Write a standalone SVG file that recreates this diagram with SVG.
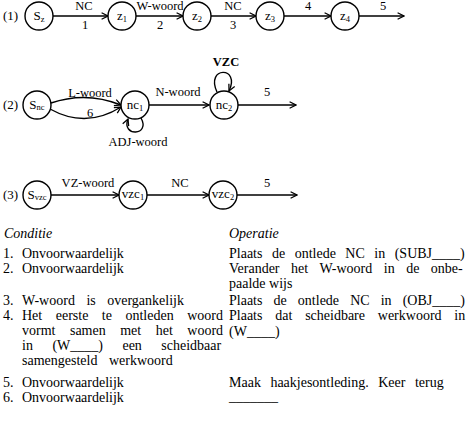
<svg xmlns="http://www.w3.org/2000/svg" width="470" height="430" viewBox="0 0 470 430">
<style>
  .n circle { fill: #fff; stroke: #000; stroke-width: 1.4; }
  .lbl { font-family: "Liberation Serif", "Times New Roman", serif; font-size: 13px; fill: #000; }
  .nl { font-family: "Liberation Serif", "Times New Roman", serif; font-size: 13px; fill: #000; text-anchor: middle; }
  .sub { font-size: 8.5px; }
  .e { fill: none; stroke: #000; stroke-width: 1.4; marker-end: url(#ah); }
  .el { font-family: "Liberation Serif", "Times New Roman", serif; font-size: 12.5px; fill: #000; text-anchor: middle; }
  .t { font-family: "Liberation Serif", "Times New Roman", serif; font-size: 14px; fill: #000; }
  .it { font-style: italic; }
</style>
<defs>
  <marker id="ah" viewBox="0 0 10 10" refX="9" refY="5" markerWidth="8" markerHeight="8" markerUnits="userSpaceOnUse" orient="auto">
    <path d="M1,1 L9,5 L1,9" fill="none" stroke="#000" stroke-width="1.6"/>
  </marker>
</defs>

<g id="row-labels">
  <text class="lbl" x="3" y="20">(1)</text>
  <text class="lbl" x="3" y="109">(2)</text>
  <text class="lbl" x="3" y="199">(3)</text>
</g>

<g id="connectors">
  <!-- row 1 -->
  <line class="e" x1="53" y1="16" x2="108" y2="16"/>
  <line class="e" x1="136" y1="16" x2="183" y2="16"/>
  <line class="e" x1="211" y1="16" x2="256" y2="16"/>
  <line class="e" x1="284" y1="16" x2="331" y2="16"/>
  <line class="e" x1="359" y1="16" x2="404" y2="16"/>
  <text class="el" x="84" y="10">NC</text>
  <text class="el" x="85" y="29">1</text>
  <text class="el" x="160" y="10">W-woord</text>
  <text class="el" x="160" y="29">2</text>
  <text class="el" x="233" y="10">NC</text>
  <text class="el" x="233" y="29">3</text>
  <text class="el" x="308" y="10">4</text>
  <text class="el" x="383" y="10">5</text>
  <!-- row 2 -->
  <path class="e" d="M51,103 Q86,91 121,105"/>
  <path class="e" d="M50,109 Q86,129 121,107"/>
  <line class="e" x1="149" y1="105" x2="209" y2="105"/>
  <line class="e" x1="238" y1="105" x2="296" y2="105"/>
  <path class="e" d="M141,118 C151,136 121,137 128,119"/>
  <path class="e" d="M217,92 C205,66 241,66 229,91"/>
  <text class="el" x="90" y="97">L-woord</text>
  <text class="el" x="90" y="117">6</text>
  <text class="el" x="178" y="96">N-woord</text>
  <text class="el" x="267" y="96">5</text>
  <text class="el" x="226" y="66" font-weight="bold">VZC</text>
  <text class="el" x="138" y="146">ADJ-woord</text>
  <!-- row 3 -->
  <line class="e" x1="51" y1="195" x2="119" y2="195"/>
  <line class="e" x1="147" y1="195" x2="209" y2="195"/>
  <line class="e" x1="237" y1="195" x2="297" y2="195"/>
  <text class="el" x="88" y="187">VZ-woord</text>
  <text class="el" x="180" y="187">NC</text>
  <text class="el" x="267" y="187">5</text>
</g>

<g id="Sz" class="n"><circle cx="39" cy="16" r="14"/><text class="nl" x="39" y="20">S<tspan class="sub" dy="2">z</tspan></text></g>
<g id="z1" class="n"><circle cx="122" cy="16" r="14"/><text class="nl" x="122" y="20">z<tspan class="sub" dy="2">1</tspan></text></g>
<g id="z2" class="n"><circle cx="197" cy="16" r="14"/><text class="nl" x="197" y="20">z<tspan class="sub" dy="2">2</tspan></text></g>
<g id="z3" class="n"><circle cx="270" cy="16" r="14"/><text class="nl" x="270" y="20">z<tspan class="sub" dy="2">3</tspan></text></g>
<g id="z4" class="n"><circle cx="345" cy="16" r="14"/><text class="nl" x="345" y="20">z<tspan class="sub" dy="2">4</tspan></text></g>

<g id="Snc" class="n"><circle cx="37" cy="105" r="14"/><text class="nl" x="37" y="109">S<tspan class="sub" dy="1">nc</tspan></text></g>
<g id="nc1" class="n"><circle cx="135" cy="105" r="14"/><text class="nl" x="135" y="109">nc<tspan class="sub" dy="2">1</tspan></text></g>
<g id="nc2" class="n"><circle cx="224" cy="105" r="14"/><text class="nl" x="224" y="109">nc<tspan class="sub" dy="2">2</tspan></text></g>

<g id="Svzc" class="n"><circle cx="37" cy="195" r="14"/><text class="nl" x="37" y="199">S<tspan class="sub" dy="1">vzc</tspan></text></g>
<g id="vzc1" class="n"><circle cx="133" cy="195" r="14"/><text class="nl" x="133" y="198" font-size="10px">vzc<tspan class="sub" dy="2">1</tspan></text></g>
<g id="vzc2" class="n"><circle cx="223" cy="195" r="14"/><text class="nl" x="223" y="198" font-size="10px">vzc<tspan class="sub" dy="2">2</tspan></text></g>

<g id="table">
  <text class="t it" x="4" y="238">Conditie</text>
  <text class="t" x="3" y="258">1.</text>
  <text class="t" x="22" y="258">Onvoorwaardelijk</text>
  <text class="t" x="3" y="273">2.</text>
  <text class="t" x="22" y="273">Onvoorwaardelijk</text>
  <text class="t" x="3" y="305">3.</text>
  <text class="t" x="22" y="305" word-spacing="8">W-woord is overgankelijk</text>
  <text class="t" x="3" y="320">4.</text>
  <text class="t" x="22" y="320" word-spacing="10">Het eerste te ontleden woord</text>
  <text class="t" x="22" y="335" word-spacing="11">vormt samen met het woord</text>
  <text class="t" x="22" y="350" word-spacing="16">in (W____) een scheidbaar</text>
  <text class="t" x="22" y="365" word-spacing="8">samengesteld werkwoord</text>
  <text class="t" x="3" y="387">5.</text>
  <text class="t" x="22" y="387">Onvoorwaardelijk</text>
  <text class="t" x="3" y="402">6.</text>
  <text class="t" x="22" y="402">Onvoorwaardelijk</text>

  <text class="t it" x="229" y="238">Operatie</text>
  <text class="t" x="229" y="258" word-spacing="6">Plaats de ontlede NC in (SUBJ____)</text>
  <text class="t" x="229" y="273" word-spacing="8">Verander het W-woord in de onbe-</text>
  <text class="t" x="229" y="288">paalde wijs</text>
  <text class="t" x="229" y="305" word-spacing="7.6">Plaats de ontlede NC in (OBJ____)</text>
  <text class="t" x="229" y="320" word-spacing="9.3">Plaats dat scheidbare werkwoord in</text>
  <text class="t" x="229" y="336">(W____)</text>
  <text class="t" x="229" y="387" word-spacing="6">Maak haakjesontleding. Keer terug</text>
  <text class="t" x="229" y="401">_______</text>
</g>
</svg>
